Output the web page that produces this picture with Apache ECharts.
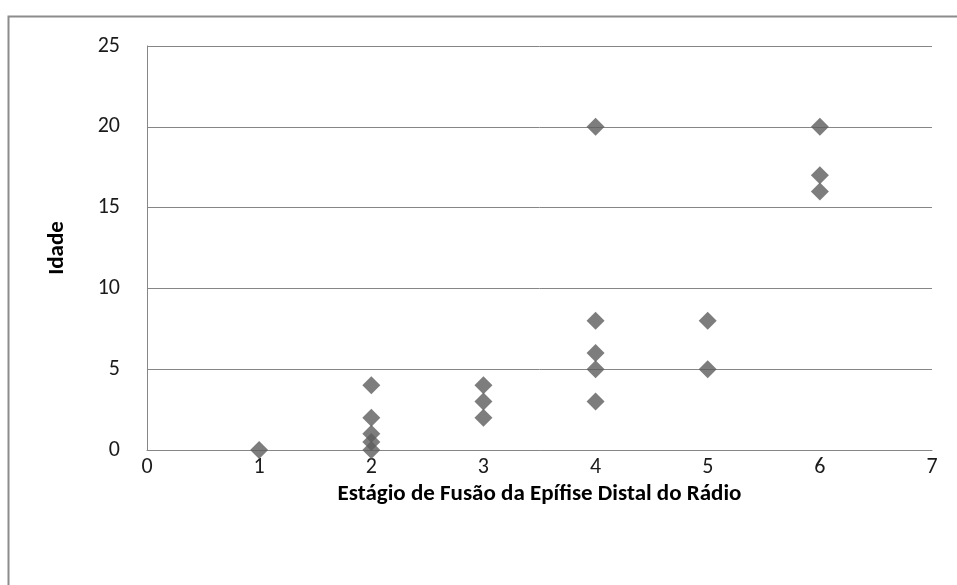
<!DOCTYPE html>
<html><head><meta charset="utf-8">
<script src="https://cdn.jsdelivr.net/npm/echarts@6/dist/echarts.min.js"></script>
<style>html,body{margin:0;padding:0;background:#fff}#c{width:957px;height:585px}</style>
</head><body><div id="c"></div>
<script>
const xTitle = "Estágio de Fusão da Epífise Distal do Rádio";
const yTitle = "Idade";
const stage = [1, 2, 2, 2, 2, 2, 3, 3, 3, 4, 4, 4, 4, 4, 5, 5, 6, 6, 6];
const age   = [0, 4, 2, 1, 0.5, 0, 4, 3, 2, 20, 8, 6, 5, 3, 8, 5, 20, 17, 16];
const points = stage.map((s, i) => [s, age[i]]);
const chart = echarts.init(document.getElementById('c'), null, {renderer: 'canvas'});
const font = "Calibri, Carlito, 'Liberation Sans', 'Open Sans', sans-serif";
chart.setOption({
  animation: false,
  backgroundColor: '#fff',
  graphic: [{type: 'rect', shape: {x: 8.5, y: 16.5, width: 1000, height: 1000}, style: {fill: 'none', stroke: '#8c8c8c', lineWidth: 2}, z: -1}],
  grid: {left: 147, right: 25, top: 46, bottom: 135, containLabel: false},
  xAxis: {
    type: 'value', min: 0, max: 7, interval: 1,
    name: xTitle, nameLocation: 'middle', nameGap: 33,
    nameTextStyle: {fontFamily: font, fontSize: 23, fontWeight: 'bold', color: '#000'},
    axisLine: {show: true, lineStyle: {color: '#868686', width: 1}},
    axisTick: {show: false},
    splitLine: {show: false},
    axisLabel: {fontFamily: font, fontSize: 22, color: '#1a1a1a', margin: 6}
  },
  yAxis: {
    type: 'value', min: 0, max: 25, interval: 5,
    name: yTitle, nameLocation: 'middle', nameGap: 78, nameRotate: 90,
    nameTextStyle: {fontFamily: font, fontSize: 23, fontWeight: 'bold', color: '#000'},
    axisLine: {show: true, lineStyle: {color: '#868686', width: 1}},
    axisTick: {show: false},
    splitLine: {show: true, lineStyle: {color: '#868686', width: 1}},
    axisLabel: {fontFamily: font, fontSize: 22, color: '#1a1a1a', margin: 27}
  },
  series: [{
    type: 'scatter', data: points, symbol: 'diamond', symbolSize: [18, 18],
    itemStyle: {color: '#5c5c5c'}
  }]
});
</script></body></html>
